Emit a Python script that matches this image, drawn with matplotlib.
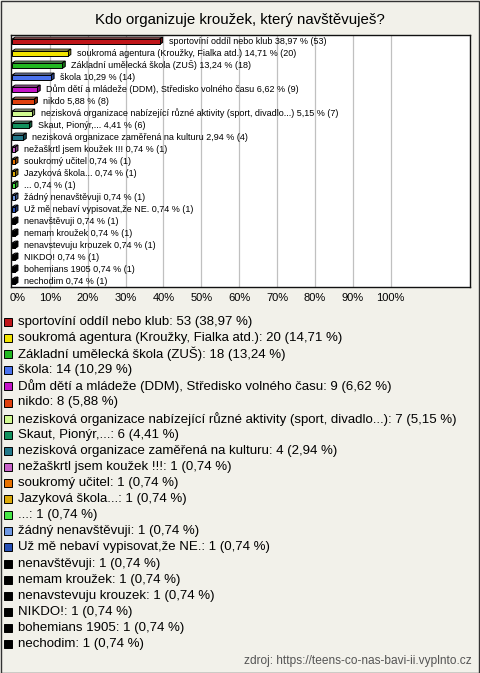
import matplotlib
matplotlib.use("Agg")
import matplotlib.pyplot as plt
from matplotlib.patches import Polygon, Rectangle
from matplotlib.transforms import ScaledTranslation
import matplotlib.colors as mcolors

plt.rcParams['font.family'] = ['Liberation Sans', 'DejaVu Sans']

title = "Kdo organizuje kroužek, který navštěvuješ?"
categories = [
    "sportovíní oddíl nebo klub",
    "soukromá agentura (Kroužky, Fialka atd.)",
    "Základní umělecká škola (ZUŠ)",
    "škola",
    "Dům dětí a mládeže (DDM), Středisko volného času",
    "nikdo",
    "nezisková organizace nabízející různé aktivity (sport, divadlo...)",
    "Skaut, Pionýr,...",
    "nezisková organizace zaměřená na kulturu",
    "nežaškrtl jsem koužek !!!",
    "soukromý učitel",
    "Jazyková škola...",
    "...",
    "žádný nenavštěvuji",
    "Už mě nebaví vypisovat,že NE.",
    "nenavštěvuji",
    "nemam kroužek",
    "nenavstevuju krouzek",
    "NIKDO!",
    "bohemians 1905",
    "nechodim",
]
counts = [53, 20, 18, 14, 9, 8, 7, 6, 4, 1, 1, 1, 1, 1, 1, 1, 1, 1, 1, 1, 1]
percents = [38.97, 14.71, 13.24, 10.29, 6.62, 5.88, 5.15, 4.41, 2.94,
            0.74, 0.74, 0.74, 0.74, 0.74, 0.74, 0.74, 0.74, 0.74, 0.74, 0.74, 0.74]
colors = ['#c0161a', '#f2e400', '#22b822', '#4a72ee', '#c414c8', '#e0400e',
          '#d0fa90', '#12925e', '#22788a', '#c862c8', '#e87200', '#dcaa08',
          '#46e646', '#6e98e4', '#2850b4', '#000000', '#000000', '#000000',
          '#000000', '#000000', '#000000']
xticks = [0, 10, 20, 30, 40, 50, 60, 70, 80, 90, 100]
source = "zdroj: https://teens-co-nas-bavi-ii.vyplnto.cz"

def fmt(v):
    return f"{v:.2f}".replace('.', ',')

W, H = 480, 673
fig = plt.figure(figsize=(W / 100, H / 100), dpi=100)
fig.patch.set_facecolor('#f2f1ea')
fig.patches.append(Rectangle((0.5 / W, 0.5 / H), 1 - 1.5 / W, 1 - 1.5 / H,
                             transform=fig.transFigure, fill=False,
                             edgecolor='#333333', linewidth=1))

fig.text(240 / W, 1 - 20 / H, title, ha='center', va='center', fontsize=10.8)

ax_l, ax_r, ax_t, ax_b = 11, 470, 35, 287
ax = fig.add_axes([ax_l / W, 1 - ax_b / H, (ax_r - ax_l) / W, (ax_b - ax_t) / H])
ax.set_facecolor('white')
n = len(categories)
ax.set_xlim(-0.3, 121)
ax.set_ylim(n - 0.5, -0.5)
for t in xticks[1:]:
    ax.axvline(t, color='#c0c0c0', linewidth=0.9, zorder=0)
for s in ax.spines.values():
    s.set_color('#111111')
    s.set_linewidth(1.0)
ax.set_yticks([])
ax.set_xticks(xticks)
ax.set_xticklabels([f"{t}%" for t in xticks], fontsize=8)
ax.tick_params(axis='x', length=0, pad=4.5)
lbl0 = ax.xaxis.get_major_ticks()[0].label1
lbl0.set_transform(lbl0.get_transform() + ScaledTranslation(4 / 72, 0, fig.dpi_scale_trans))

bh = 0.45
dx = 0.8
dy = 0.16
for i, (p, c) in enumerate(zip(percents, colors)):
    top = i - bh / 2 + 0.06
    bot = i + bh / 2 + 0.06
    rgb = mcolors.to_rgb(c)
    light = tuple(min(1, v + (1 - v) * 0.45) for v in rgb)
    dark = tuple(v * 0.6 for v in rgb)
    ax.add_patch(Polygon([(0, top), (p, top), (p + dx, top - dy), (dx, top - dy)],
                         closed=True, facecolor=light, edgecolor='black', linewidth=0.7, zorder=3))
    ax.add_patch(Polygon([(p, top), (p + dx, top - dy), (p + dx, bot - dy), (p, bot)],
                         closed=True, facecolor=dark, edgecolor='black', linewidth=0.7, zorder=3))
    ax.barh(i + 0.06, p, height=bh, color=c, edgecolor='black', linewidth=0.7, zorder=4)
    ax.text(p + 2.4, i, f"{categories[i]} {fmt(p)} % ({counts[i]})",
            fontsize=6.5, va='center', ha='left', zorder=5)

# legend
y0 = 322
step = 16.1
for i, (cat, cnt, p, c) in enumerate(zip(categories, counts, percents, colors)):
    y = y0 + i * step
    fig.patches.append(Rectangle((4 / W, 1 - (y + 4) / H), 8 / W, 8 / H,
                                 transform=fig.transFigure, facecolor=c,
                                 edgecolor='black', linewidth=0.7))
    fig.text(18 / W, 1 - y / H, f"{cat}: {cnt} ({fmt(p)} %)", fontsize=9.5,
             va='center', ha='left')

fig.text(472 / W, 1 - 661 / H, source, ha='right', va='center', fontsize=8.6,
         color='#555555')

fig.savefig('out.png', dpi=100, facecolor=fig.get_facecolor())
